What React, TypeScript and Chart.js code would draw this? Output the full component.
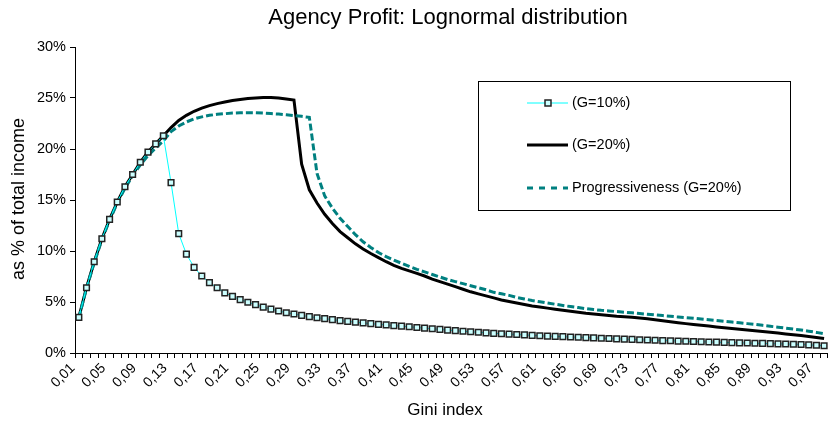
import { useEffect, useRef } from "react";
import { Chart, registerables } from "chart.js";

Chart.register(...registerables);

const FONT = "'Liberation Sans', Arial, sans-serif";

const chartTitle = "Agency Profit: Lognormal distribution";
const xTitle = "Gini index";
const yTitle = "as % of total income";
const seriesNames = ["(G=10%)", "(G=20%)", "Progressiveness (G=20%)"];

const giniLabels = [
  "0,01", "0,02", "0,03", "0,04", "0,05", "0,06", "0,07", "0,08", "0,09", "0,10",
  "0,11", "0,12", "0,13", "0,14", "0,15", "0,16", "0,17", "0,18", "0,19", "0,20",
  "0,21", "0,22", "0,23", "0,24", "0,25", "0,26", "0,27", "0,28", "0,29", "0,30",
  "0,31", "0,32", "0,33", "0,34", "0,35", "0,36", "0,37", "0,38", "0,39", "0,40",
  "0,41", "0,42", "0,43", "0,44", "0,45", "0,46", "0,47", "0,48", "0,49", "0,50",
  "0,51", "0,52", "0,53", "0,54", "0,55", "0,56", "0,57", "0,58", "0,59", "0,60",
  "0,61", "0,62", "0,63", "0,64", "0,65", "0,66", "0,67", "0,68", "0,69", "0,70",
  "0,71", "0,72", "0,73", "0,74", "0,75", "0,76", "0,77", "0,78", "0,79", "0,80",
  "0,81", "0,82", "0,83", "0,84", "0,85", "0,86", "0,87", "0,88", "0,89", "0,90",
  "0,91", "0,92", "0,93", "0,94", "0,95", "0,96", "0,97", "0,98",
];

const profitG10 = [
  3.5, 6.4, 8.95, 11.2, 13.1, 14.8, 16.3, 17.5, 18.7, 19.7,
  20.5, 21.3, 16.7, 11.7, 9.7, 8.4, 7.55, 6.9, 6.4, 5.9,
  5.55, 5.23, 4.98, 4.74, 4.5, 4.3, 4.12, 3.95, 3.82, 3.69,
  3.56, 3.46, 3.37, 3.27, 3.17, 3.1, 3.02, 2.95, 2.88, 2.81,
  2.75, 2.69, 2.63, 2.57, 2.5, 2.44, 2.38, 2.31, 2.25, 2.19,
  2.13, 2.08, 2.03, 1.98, 1.93, 1.89, 1.85, 1.81, 1.77, 1.73,
  1.69, 1.66, 1.63, 1.6, 1.57, 1.54, 1.51, 1.48, 1.45, 1.42,
  1.39, 1.36, 1.33, 1.3, 1.27, 1.25, 1.22, 1.2, 1.17, 1.15,
  1.13, 1.1, 1.08, 1.06, 1.04, 1.02, 1.0, 0.98, 0.96, 0.94,
  0.92, 0.9, 0.88, 0.86, 0.83, 0.8, 0.76, 0.71,
];

const profitG20 = [
  3.5, 6.4, 8.95, 11.2, 13.1, 14.8, 16.3, 17.5, 18.7, 19.7,
  20.5, 21.3, 22.1, 22.8, 23.3, 23.7, 24.0, 24.25, 24.45, 24.6,
  24.75, 24.85, 24.95, 25.0, 25.05, 25.05, 25.0, 24.9, 24.8, 18.5,
  16.0, 14.7, 13.6, 12.7, 11.9, 11.3, 10.7, 10.2, 9.75, 9.35,
  8.95, 8.6, 8.3, 8.05, 7.8, 7.55, 7.25, 7.0, 6.75, 6.5,
  6.25, 6.0, 5.8, 5.6, 5.4, 5.2, 5.05, 4.9, 4.75, 4.6,
  4.5, 4.4, 4.3, 4.2, 4.1, 4.0, 3.9, 3.82, 3.75, 3.68,
  3.6, 3.55, 3.5, 3.42, 3.35, 3.26, 3.16, 3.06, 2.97, 2.88,
  2.8, 2.72, 2.64, 2.56, 2.48, 2.4, 2.33, 2.26, 2.19, 2.11,
  2.03, 1.95, 1.87, 1.79, 1.71, 1.62, 1.52, 1.42,
];

const progressiveG20 = [
  3.45, 6.35, 8.85, 11.1, 13.0, 14.7, 16.15, 17.35, 18.45, 19.35,
  20.1, 20.8, 21.7, 22.25, 22.65, 22.95, 23.15, 23.3, 23.4, 23.46,
  23.52, 23.55, 23.56, 23.55, 23.52, 23.47, 23.42, 23.35, 23.28, 23.2,
  23.1, 17.6, 15.4, 14.2, 13.2, 12.4, 11.6, 10.9, 10.35, 9.85,
  9.45, 9.1, 8.8, 8.5, 8.2, 7.95, 7.7, 7.45, 7.2, 7.0,
  6.8, 6.6, 6.4, 6.2, 5.95, 5.8, 5.65, 5.45, 5.3, 5.15,
  5.02, 4.9, 4.78, 4.66, 4.55, 4.45, 4.35, 4.26, 4.18, 4.12,
  4.06, 4.0, 3.94, 3.87, 3.8, 3.74, 3.67, 3.6, 3.53, 3.46,
  3.4, 3.33, 3.26, 3.18, 3.1, 3.03, 2.96, 2.88, 2.8, 2.71,
  2.62, 2.53, 2.44, 2.35, 2.25, 2.14, 2.02, 1.88,
];

const yMin = 0;
const yMax = 30;
const yStep = 5;

const CYAN = "#00FFFF";
const TEAL = "#008080";

const overlayPlugin = {
  id: "overlay",
  afterDraw(chart: any) {
    const ctx = chart.ctx as CanvasRenderingContext2D;
    ctx.save();
    ctx.fillStyle = "#000";
    ctx.textAlign = "center";
    ctx.textBaseline = "middle";
    ctx.font = `22px ${FONT}`;
    ctx.fillText(chartTitle, 448, 18);
    ctx.font = `17px ${FONT}`;
    ctx.fillText(xTitle, 445, 410);
    ctx.save();
    ctx.translate(19, 199);
    ctx.rotate(-Math.PI / 2);
    ctx.font = `18px ${FONT}`;
    ctx.fillText(yTitle, 0, 0);
    ctx.restore();

    // legend box
    const bx = 478, by = 81, bw = 312, bh = 129;
    ctx.fillStyle = "#fff";
    ctx.fillRect(bx, by, bw, bh);
    ctx.strokeStyle = "#000";
    ctx.lineWidth = 1;
    ctx.strokeRect(bx + 0.5, by + 0.5, bw, bh);

    const x0 = 527, x1 = 568;
    const rows = [103, 145, 188];
    ctx.strokeStyle = CYAN;
    ctx.lineWidth = 1;
    ctx.beginPath();
    ctx.moveTo(x0, rows[0]);
    ctx.lineTo(x1, rows[0]);
    ctx.stroke();
    ctx.fillStyle = "#CCFFFF";
    ctx.fillRect(545, rows[0] - 3, 6, 6);
    ctx.strokeStyle = "#222";
    ctx.lineWidth = 1.5;
    ctx.strokeRect(545, rows[0] - 3, 6, 6);
    ctx.strokeStyle = "#000";
    ctx.lineWidth = 3;
    ctx.beginPath();
    ctx.moveTo(x0, rows[1]);
    ctx.lineTo(x1, rows[1]);
    ctx.stroke();
    ctx.strokeStyle = TEAL;
    ctx.lineWidth = 3;
    ctx.setLineDash([6, 6]);
    ctx.beginPath();
    ctx.moveTo(x0, rows[2]);
    ctx.lineTo(x1, rows[2]);
    ctx.stroke();
    ctx.setLineDash([]);

    ctx.fillStyle = "#000";
    ctx.textAlign = "left";
    ctx.font = `14.5px ${FONT}`;
    seriesNames.forEach((n, i) => ctx.fillText(n, 572, rows[i]));
    ctx.restore();
  },
};

export default function App() {
  const canvasRef = useRef<HTMLCanvasElement | null>(null);

  useEffect(() => {
    if (!canvasRef.current) return;
    const chart = new Chart(canvasRef.current, {
      type: "line",
      data: {
        labels: giniLabels,
        datasets: [
          {
            label: seriesNames[0],
            data: profitG10,
            borderColor: CYAN,
            borderWidth: 1,
            pointStyle: "rect",
            pointRadius: 4,
            pointBorderWidth: 1.5,
            pointBorderColor: "#222",
            pointBackgroundColor: "#CCFFFF",
            tension: 0,
            order: 0,
          },
          {
            label: seriesNames[1],
            data: profitG20,
            borderColor: "#000",
            borderWidth: 3,
            pointRadius: 0,
            tension: 0,
            order: 2,
          },
          {
            label: seriesNames[2],
            data: progressiveG20,
            borderColor: TEAL,
            borderWidth: 3,
            borderDash: [7, 3],
            pointRadius: 0,
            tension: 0,
            order: 1,
          },
        ],
      },
      options: {
        animation: false,
        responsive: true,
        maintainAspectRatio: false,
        layout: { padding: { top: 47, right: 2, left: 0, bottom: 0 } },
        plugins: {
          legend: { display: false },
          title: { display: false },
          tooltip: { enabled: false },
        },
        scales: {
          x: {
            type: "category",
            offset: true,
            grid: {
              display: true,
              drawOnChartArea: false,
              drawTicks: true,
              tickLength: 5,
              color: "#000",
              offset: true,
            },
            border: { display: true, color: "#000", width: 1 },
            ticks: {
              autoSkip: false,
              maxRotation: 45,
              minRotation: 45,
              padding: 2,
              labelOffset: -6,
              color: "#000",
              font: { family: FONT, size: 14 },
              callback: (_v: any, i: number) => (i % 4 === 0 ? giniLabels[i] : ""),
            },
            afterFit: (s: any) => {
              s.height = 73;
            },
          },
          y: {
            min: yMin,
            max: yMax,
            grid: {
              display: true,
              drawOnChartArea: false,
              drawTicks: true,
              tickLength: 5,
              color: "#000",
            },
            border: { display: true, color: "#000", width: 1 },
            ticks: {
              stepSize: yStep,
              padding: 4,
              color: "#000",
              font: { family: FONT, size: 14.5 },
              callback: (v: any) => `${v}%`,
            },
            afterFit: (s: any) => {
              s.width = 75;
            },
          },
        },
      },
      plugins: [overlayPlugin],
    });
    return () => chart.destroy();
  }, []);

  return (
    <div style={{ position: "absolute", left: 0, top: 0, width: 838, height: 426, background: "#fff" }}>
      <canvas ref={canvasRef} />
    </div>
  );
}
